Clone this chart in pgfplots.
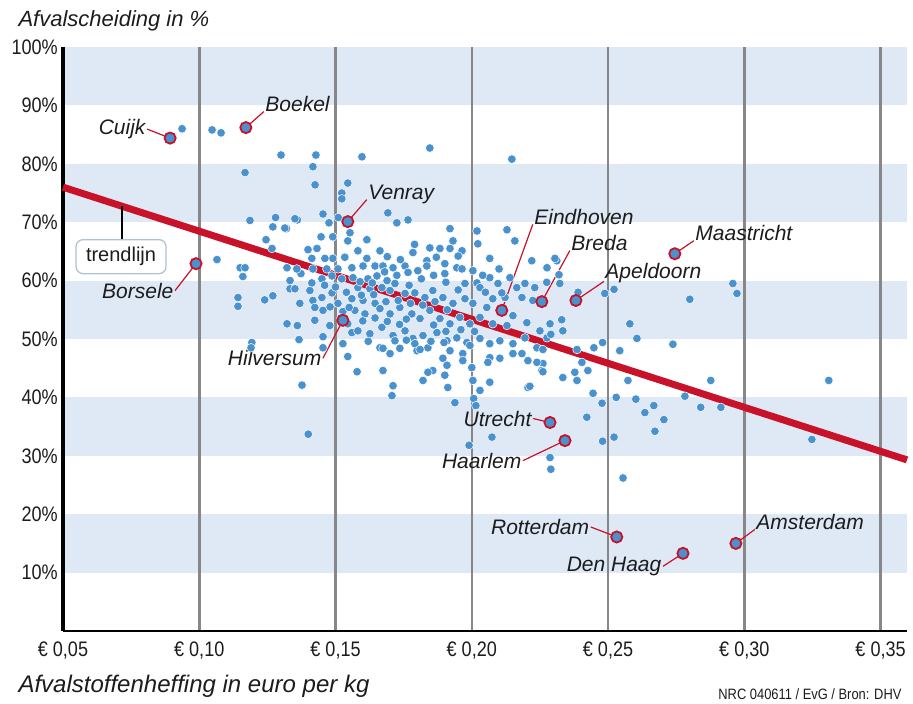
\documentclass[border=0pt]{standalone}
\usepackage{fontspec}
\setmainfont{Liberation Sans}
\newfontfamily\condfont{Liberation Sans}[FakeStretch=0.86]
\usepackage{pgfplots}
\pgfplotsset{compat=1.18}
\definecolor{band}{RGB}{222,233,245}
\definecolor{dotblue}{RGB}{74,146,206}
\definecolor{trendred}{RGB}{200,18,42}
\definecolor{gridgray}{RGB}{135,135,135}
\definecolor{txt}{RGB}{28,28,28}
\definecolor{boxborder}{RGB}{175,195,215}
\tikzset{
  conn/.style={trendred, line width=1.2pt},
  lab/.style={inner sep=1pt, text=txt, font=\itshape\fontsize{21}{21}\selectfont},
}
\begin{document}
\begin{tikzpicture}
\begin{axis}[
  scale only axis, width=844pt, height=584pt,
  xmin=0.05, xmax=0.3597, ymin=0, ymax=100,
  axis line style={draw=none},
  major tick length=0pt,
  xtick={0.05,0.1,0.15,0.2,0.25,0.3,0.35},
  xticklabels={{€ 0,05\hspace{26pt}},{€ 0,10},{€ 0,15},{€ 0,20},{€ 0,25},{€ 0,30},{€ 0,35}},
  ytick={10,20,30,40,50,60,70,80,90,100},
  yticklabels={10\%,20\%,30\%,40\%,50\%,60\%,70\%,80\%,90\%,100\%},
  xticklabel style={font=\condfont\fontsize{21}{21}\selectfont, text=txt, inner sep=0pt, anchor=north, yshift=-11pt},
  yticklabel style={font=\condfont\fontsize{21}{21}\selectfont, text=txt, inner sep=0pt, anchor=east, xshift=-5pt},
  clip=false,
]
% bands
\fill[band] (axis cs:0.05,90) rectangle (axis cs:0.3597,100);
\fill[band] (axis cs:0.05,70) rectangle (axis cs:0.3597,80);
\fill[band] (axis cs:0.05,50) rectangle (axis cs:0.3597,60);
\fill[band] (axis cs:0.05,30) rectangle (axis cs:0.3597,40);
\fill[band] (axis cs:0.05,10) rectangle (axis cs:0.3597,20);
% vertical grid lines
\draw[gridgray, line width=2.5pt] (axis cs:0.10,0) -- (axis cs:0.10,100);
\draw[gridgray, line width=2.5pt] (axis cs:0.15,0) -- (axis cs:0.15,100);
\draw[gridgray, line width=2.5pt] (axis cs:0.20,0) -- (axis cs:0.20,100);
\draw[gridgray, line width=2.5pt] (axis cs:0.25,0) -- (axis cs:0.25,100);
\draw[gridgray, line width=2.5pt] (axis cs:0.30,0) -- (axis cs:0.30,100);
\draw[gridgray, line width=2.5pt] (axis cs:0.35,0) -- (axis cs:0.35,100);
% axes
\draw[black, line width=2.5pt] (axis cs:0.05,0) -- (axis cs:0.3597,0);
\draw[black, line width=3.5pt] (axis cs:0.05,0) -- (axis cs:0.05,100);
% municipalities
\addplot[only marks, mark=*, mark size=4.3pt, mark options={fill=dotblue, draw=white, line width=0.5pt}] table {
x y
0.0937 86.0
0.1047 85.8
0.1080 85.3
0.1168 78.5
0.1300 81.5
0.1428 81.5
0.1417 79.5
0.1425 76.4
0.1597 81.2
0.1846 82.7
0.2147 80.8
0.1545 76.7
0.1523 75.0
0.1523 74.0
0.1065 63.6
0.1150 62.2
0.1168 62.2
0.1160 60.7
0.1142 57.1
0.1142 55.6
0.1240 56.7
0.1270 57.4
0.1193 49.4
0.1190 48.5
0.1186 70.3
0.1280 70.8
0.1270 69.2
0.1320 68.9
0.1360 70.4
0.1245 67.0
0.1267 65.5
0.1454 71.4
0.1510 70.8
0.1447 67.5
0.1399 65.3
0.1432 65.5
0.1476 69.9
0.1490 67.5
0.1373 61.2
0.1333 58.6
0.1417 56.6
0.1360 52.3
0.1366 49.9
0.1424 53.2
0.1454 50.4
0.1454 48.5
0.1377 42.1
0.1527 49.2
0.1545 47.0
0.1400 33.7
0.1579 44.4
0.1560 51.1
0.1454 54.9
0.1527 54.7
0.1351 70.6
0.1314 69.0
0.1692 71.6
0.1725 69.9
0.1766 70.4
0.1615 67.0
0.1553 68.2
0.1545 66.8
0.1846 65.6
0.1883 65.5
0.1920 65.5
0.1964 65.1
0.1931 66.8
0.1920 68.9
0.2019 68.5
0.2022 66.3
0.2066 63.8
0.2129 68.7
0.2158 66.8
0.1784 64.8
0.1835 63.4
0.1663 65.1
0.1582 65.1
0.1615 63.8
0.1534 64.0
0.1490 63.8
0.1461 63.8
0.1413 63.8
0.1358 62.0
0.1322 62.2
0.1417 62.0
0.1468 62.0
0.1509 62.0
0.1560 62.2
0.1601 62.5
0.1645 62.5
0.1674 62.5
0.1711 62.2
0.1755 62.5
0.1766 61.4
0.1802 61.7
0.1835 62.5
0.1901 62.9
0.1945 62.2
0.1901 61.2
0.1964 62.0
0.2004 61.7
0.1975 59.5
0.2019 59.6
0.2030 58.8
0.2066 60.5
0.2096 59.5
0.2140 60.5
0.2165 58.8
0.2195 59.5
0.2231 58.8
0.2276 62.2
0.2312 63.4
0.2220 63.4
0.2184 57.1
0.2224 56.6
0.2323 59.5
0.1333 60.0
0.1413 59.6
0.1450 60.3
0.1487 60.8
0.1523 60.3
0.1564 60.5
0.1619 60.3
0.1652 60.8
0.1689 60.0
0.1718 59.5
0.1582 58.8
0.1626 58.6
0.1670 58.8
0.1700 58.3
0.1755 57.8
0.1791 57.9
0.1828 57.1
0.1857 58.3
0.1894 57.1
0.1931 56.1
0.1975 56.9
0.2004 56.1
0.2055 55.4
0.2077 56.9
0.1351 58.6
0.1406 58.3
0.1450 57.1
0.1487 57.9
0.1509 56.1
0.1560 56.9
0.1601 56.6
0.1645 56.1
0.1424 55.4
0.1369 56.1
0.1571 54.9
0.1608 54.3
0.1663 55.2
0.1700 54.3
0.1736 55.4
0.1780 54.3
0.1810 53.5
0.1846 54.9
0.1883 53.5
0.1920 52.6
0.1956 53.7
0.1993 52.6
0.2030 53.7
0.2077 52.6
0.2129 52.3
0.2151 54.0
0.2202 52.8
0.2250 51.4
0.2287 52.6
0.2334 51.4
0.1322 52.6
0.1479 52.3
0.1545 52.6
0.1582 51.4
0.1626 50.9
0.1670 52.0
0.1711 50.6
0.1755 51.4
0.1784 50.1
0.1821 50.6
0.1872 51.1
0.1909 49.7
0.1945 50.2
0.1982 49.4
0.2030 50.1
0.2066 49.2
0.2103 49.7
0.2151 49.2
0.2195 50.2
0.2239 48.5
0.2276 50.2
0.1663 48.5
0.1700 47.5
0.1736 48.4
0.1799 48.0
0.1839 48.5
0.1894 46.7
0.1920 48.0
0.1967 47.5
0.2000 45.1
0.2004 42.9
0.2030 41.2
0.2066 46.8
0.2103 46.7
0.2151 47.5
0.2206 46.3
0.2261 45.8
0.2334 43.4
0.2378 44.3
0.1674 44.6
0.1711 42.0
0.1821 42.9
0.1857 44.6
0.1901 43.8
0.1912 41.7
0.1938 39.1
0.2066 42.6
0.2206 41.7
0.1707 40.3
0.1839 44.3
0.1909 45.5
0.1967 46.3
0.2074 33.2
0.2059 46.0
0.2184 47.5
0.2239 46.0
0.2257 44.6
0.2261 48.2
0.2213 41.9
0.1990 31.8
0.2007 39.8
0.2015 38.6
0.2305 63.8
0.2320 61.0
0.2275 59.7
0.2390 58.0
0.2488 57.8
0.2522 58.5
0.2958 59.5
0.2973 57.8
0.2800 56.8
0.2330 53.3
0.2290 50.8
0.2580 52.6
0.2606 50.1
0.2738 49.1
0.2480 49.4
0.2448 48.5
0.2543 48.0
0.2386 48.2
0.2404 46.0
0.2426 44.6
0.2386 42.9
0.2261 44.4
0.2573 42.9
0.2877 42.9
0.3310 42.9
0.2445 40.7
0.2478 39.0
0.2530 40.0
0.2602 39.7
0.2782 40.2
0.2668 38.6
0.2635 37.4
0.2705 36.2
0.2672 34.2
0.2840 38.3
0.2914 38.3
0.2422 36.6
0.2522 33.2
0.2480 32.5
0.3248 32.8
0.2287 29.7
0.2290 27.7
0.2555 26.2
0.2122 57.1
0.1674 48.4
0.1718 49.7
0.1791 49.2
0.1810 48.2
0.1898 49.4
0.1993 48.9
0.1590 59.8
0.1635 59.6
0.1680 61.5
0.1725 60.9
0.1770 59.2
0.1815 60.3
0.1860 60.9
0.1905 59.7
0.1950 58.4
0.1738 63.6
0.1690 64.1
0.1790 66.2
0.1870 64.0
0.1950 64.2
0.1595 57.5
0.1640 57.6
0.1685 56.4
0.1730 56.6
0.1775 56.1
0.1820 55.8
0.1865 56.4
0.1910 55.0
0.1550 55.4
0.1600 53.1
0.1645 53.6
0.1690 53.0
0.1735 52.5
0.1760 53.4
0.1860 52.4
0.1905 51.3
0.1960 51.6
0.2010 51.3
0.1620 49.6
0.1760 49.8
0.1850 49.6
0.1500 58.9
0.1460 59.2
0.1540 58.0
0.2050 58.0
0.2110 57.9
0.2040 60.9
0.2100 62.0
0.1480 55.5
0.1520 53.6
};
% trend line
\addplot[trendred, line width=7pt] coordinates {(0.05,76.0) (0.3597,29.3)};
% trendlijn callout
\draw[black, line width=2.5pt] (axis cs:0.0716,72.7) -- (axis cs:0.0716,67.0);
\node[draw=boxborder, fill=white, rounded corners=7pt, line width=1.3pt, minimum width=90pt, minimum height=34pt, inner sep=2pt, text=txt, font=\fontsize{20}{20}\selectfont] at (axis cs:0.0713,64.1) {trendlijn};
% connectors and labels
\draw[conn] (axis cs:0.0893,84.4) -- ++(-23pt,9pt) node[anchor=east,lab] {Cuijk};
\draw[conn] (axis cs:0.1171,86.2) -- ++(18pt,16pt) node[anchor=base west,lab] {Boekel};
\draw[conn] (axis cs:0.0988,62.9) -- ++(-21pt,-27pt) node[anchor=east,lab] {Borsele};
\draw[conn] (axis cs:0.1545,70.1) -- ++(19pt,22pt) node[anchor=base west,lab] {Venray};
\draw[conn] (axis cs:0.1527,53.2) -- ++(-20pt,-38pt) node[anchor=east,lab] {Hilversum};
\draw[conn] (axis cs:0.2110,54.9) -- ++(31pt,86pt) node[anchor=base west,lab] {Eindhoven};
\draw[conn] (axis cs:0.2257,56.4) -- ++(28pt,51pt) node[anchor=base west,lab] {Breda};
\draw[conn] (axis cs:0.2382,56.6) -- ++(28pt,19pt) node[anchor=base west,lab,yshift=3pt] {Apeldoorn};
\draw[conn] (axis cs:0.2745,64.6) -- ++(19pt,13pt) node[anchor=base west,lab] {Maastricht};
\draw[conn] (axis cs:0.2287,35.7) -- ++(-17pt,4pt) node[anchor=east,lab] {Utrecht};
\draw[conn] (axis cs:0.2342,32.6) -- ++(-42pt,-20pt) node[anchor=east,lab] {Haarlem};
\draw[conn] (axis cs:0.2532,16.1) -- ++(-26pt,10pt) node[anchor=east,lab] {Rotterdam};
\draw[conn] (axis cs:0.2775,13.3) -- ++(-20pt,-13pt) node[anchor=east,lab] {Den Haag};
\draw[conn] (axis cs:0.2969,15.0) -- ++(19pt,14pt) node[anchor=base west,lab] {Amsterdam};
% labelled municipalities
\addplot[only marks, mark=*, mark size=5.6pt, mark options={fill=dotblue, draw=trendred, line width=1.8pt}] coordinates {
(0.0893,84.4) (0.1171,86.2) (0.0988,62.9) (0.1545,70.1) (0.1527,53.2)
(0.2110,54.9) (0.2257,56.4) (0.2382,56.6) (0.2745,64.6) (0.2287,35.7)
(0.2342,32.6) (0.2532,16.1) (0.2775,13.3) (0.2969,15.0)};
\end{axis}
\node[anchor=base west, text=txt, font=\itshape\fontsize{22}{22}\selectfont] at (-48pt,604pt) {Afvalscheiding in \%};
\node[anchor=base west, text=txt, font=\itshape\fontsize{24}{24}\selectfont] at (-48pt,-61pt) {Afvalstoffenheffing in euro per kg};
\node[anchor=base east, text=txt, font=\condfont\fontsize{15}{15}\selectfont] at (842pt,-68pt) {NRC 040611 / EvG / Bron: DHV};
\pgfresetboundingbox
\useasboundingbox (-63pt,-73pt) rectangle (850pt,631pt);
\end{tikzpicture}
\end{document}
